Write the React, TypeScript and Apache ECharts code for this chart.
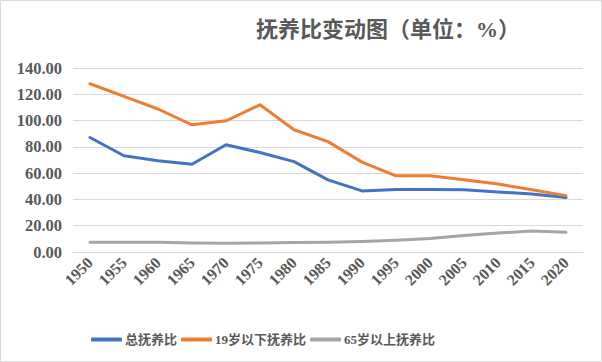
import React, { useEffect, useRef } from "react";
import * as echarts from "echarts";

const years = ["1950","1955","1960","1965","1970","1975","1980","1985","1990","1995","2000","2005","2010","2015","2020"];
const totalRatio = [87.1, 73.2, 69.4, 66.8, 81.6, 75.7, 68.8, 54.9, 46.5, 47.6, 47.5, 47.3, 45.7, 44.2, 41.4];
const youngRatio = [128.0, 118.4, 108.8, 96.8, 99.8, 112.0, 93.0, 84.0, 68.4, 58.0, 58.0, 54.9, 51.8, 47.3, 42.9];
const oldRatio = [7.4, 7.5, 7.4, 6.8, 6.7, 6.8, 7.3, 7.4, 7.9, 8.9, 10.2, 12.5, 14.4, 16.0, 15.0];
const yTicks = { min: 0, max: 140, interval: 20 };
const seriesNames = ["总抚养比", "19岁以下抚养比", "65岁以上抚养比"];
const colors = ["#4472C4", "#ED7D31", "#A5A5A5"];
const titleText = "抚养比变动图（单位：%）";

const FONT = "'Liberation Serif', 'Noto Sans CJK SC', serif";

export default function App() {
  const ref = useRef<HTMLDivElement>(null);
  useEffect(() => {
    document.body.style.margin = "0";
    const chart = echarts.init(ref.current!, null, { renderer: "svg" });
    const data = [totalRatio, youngRatio, oldRatio];
    chart.setOption({
      animation: false,
      backgroundColor: "#ffffff",
      title: {
        text: titleText,
        left: 251,
        top: 13,
        textStyle: { fontFamily: FONT, fontSize: 22, fontWeight: "bold", color: "#595959" },
      },
      graphic: [
        {
          type: "rect",
          shape: { x: 0.5, y: 0.5, width: 601, height: 361 },
          style: { fill: "none", stroke: "#D9D9D9", lineWidth: 1 },
          silent: true,
        },
      ],
      legend: {
        left: 86,
        top: 328,
        icon: "roundRect",
        itemWidth: 31,
        itemHeight: 4,
        itemGap: 4,
        textStyle: { fontFamily: FONT, fontSize: 13, fontWeight: "bold", color: "#595959", padding: [0, 0, 0, -2] },
        data: seriesNames,
      },
      grid: { left: 73, right: 19, top: 68, bottom: 110, containLabel: false },
      xAxis: {
        type: "category",
        data: years,
        boundaryGap: true,
        axisLine: { show: true, lineStyle: { color: "#D9D9D9" } },
        axisTick: { show: false },
        axisLabel: {
          rotate: 45,
          interval: 0,
          margin: 8,
          fontFamily: FONT,
          fontSize: 16,
          fontWeight: "bold",
          color: "#595959",
        },
      },
      yAxis: {
        type: "value",
        min: yTicks.min,
        max: yTicks.max,
        interval: yTicks.interval,
        axisLine: { show: false },
        axisTick: { show: false },
        splitLine: { lineStyle: { color: "#D9D9D9", width: 1 } },
        axisLabel: {
          margin: 11,
          fontFamily: FONT,
          fontSize: 16.5,
          fontWeight: "bold",
          color: "#595959",
          formatter: (v: number) => v.toFixed(2),
        },
      },
      series: seriesNames.map((name, i) => ({
        name,
        type: "line",
        data: data[i],
        symbol: "none",
        color: colors[i],
        lineStyle: { width: 3, color: colors[i], cap: "round", join: "round" },
      })),
    });
    return () => chart.dispose();
  }, []);
  return <div ref={ref} style={{ width: 602, height: 362 }} />;
}
